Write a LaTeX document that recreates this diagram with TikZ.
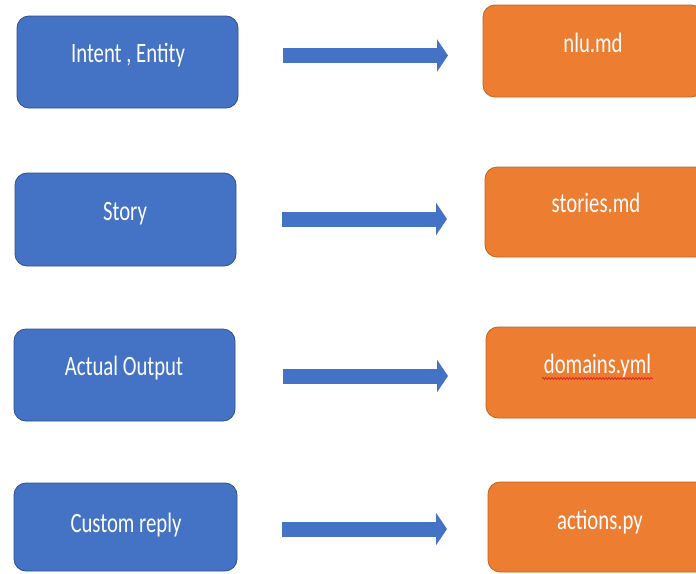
\documentclass[tikz,border=0pt]{standalone}
\usepackage{fontspec}
\setmainfont{Carlito}
\usetikzlibrary{arrows.meta,decorations.pathmorphing}
\definecolor{boxblue}{HTML}{4472C4}
\definecolor{boxblueedge}{HTML}{2F528F}
\definecolor{boxorange}{HTML}{ED7D31}
\definecolor{boxorangeedge}{HTML}{C0651F}
\definecolor{spellred}{HTML}{E02828}
\tikzset{
  bluebox/.style={draw=boxblueedge, line width=0.8pt, fill=boxblue, rounded corners=12pt, inner sep=0pt},
  orangebox/.style={draw=boxorangeedge, line width=0.8pt, fill=boxorange, rounded corners=12pt, inner sep=0pt},
  boxtext/.style={anchor=base, text=white, inner sep=0pt, font=\fontsize{28}{32}\selectfont},
  bigarrow/.style={draw=boxblue, line width=15pt, -{Triangle[length=11pt,width=32pt]}},
}
\newcommand{\sq}[1]{\scalebox{0.74}[1]{#1}}
\begin{document}
\begin{tikzpicture}[x=1pt,y=-1pt]
\clip (0,0) rectangle (696,573);
\fill[white] (0,0) rectangle (696,573);
% row 1
\node[bluebox, minimum width=221pt, minimum height=92pt] (b1) at (127.5,62) {};
\node[boxtext] (b1t) at (128,62) {\sq{Intent , Entity}};
\node[orangebox, minimum width=220pt, minimum height=92pt] (o1) at (593,51) {};
\node[boxtext] (o1t) at (593,52) {\sq{nlu.md}};
\coordinate (a1s) at (283,55.5);
\coordinate (a1e) at (448,55.5);
\draw[bigarrow] (a1s) -- (a1e);
% row 2
\node[bluebox, minimum width=221pt, minimum height=93pt] (b2) at (125.5,219.5) {};
\node[boxtext] (b2t) at (125,220) {\sq{Story}};
\node[orangebox, minimum width=222pt, minimum height=90pt] (o2) at (596,212) {};
\node[boxtext] (o2t) at (596,212) {\sq{stories.md}};
\coordinate (a2s) at (282,219);
\coordinate (a2e) at (447,219);
\draw[bigarrow] (a2s) -- (a2e);
% row 3
\node[bluebox, minimum width=221pt, minimum height=92pt] (b3) at (124.5,375) {};
\node[boxtext] (b3t) at (124,375) {\sq{Actual Output}};
\node[orangebox, minimum width=223pt, minimum height=91pt] (o3) at (597.5,372.5) {};
\node[boxtext] (o3t) at (597.5,373) {\sq{domains.yml}};
\coordinate (sqs) at (542,378.5);
\coordinate (sqe) at (653,378.5);
\draw[spellred, line width=0.8pt, decorate, decoration={snake, amplitude=1pt, segment length=3pt}] (sqs) -- (sqe);
\coordinate (a3s) at (283,376);
\coordinate (a3e) at (448,376);
\draw[bigarrow] (a3s) -- (a3e);
% row 4
\node[bluebox, minimum width=223pt, minimum height=88pt] (b4) at (125.5,527) {};
\node[boxtext] (b4t) at (126,532) {\sq{Custom reply}};
\node[orangebox, minimum width=224pt, minimum height=90pt] (o4) at (600,527) {};
\node[boxtext] (o4t) at (600,529) {\sq{actions.py}};
\coordinate (a4s) at (282,529);
\coordinate (a4e) at (447,529);
\draw[bigarrow] (a4s) -- (a4e);
\end{tikzpicture}
\end{document}
